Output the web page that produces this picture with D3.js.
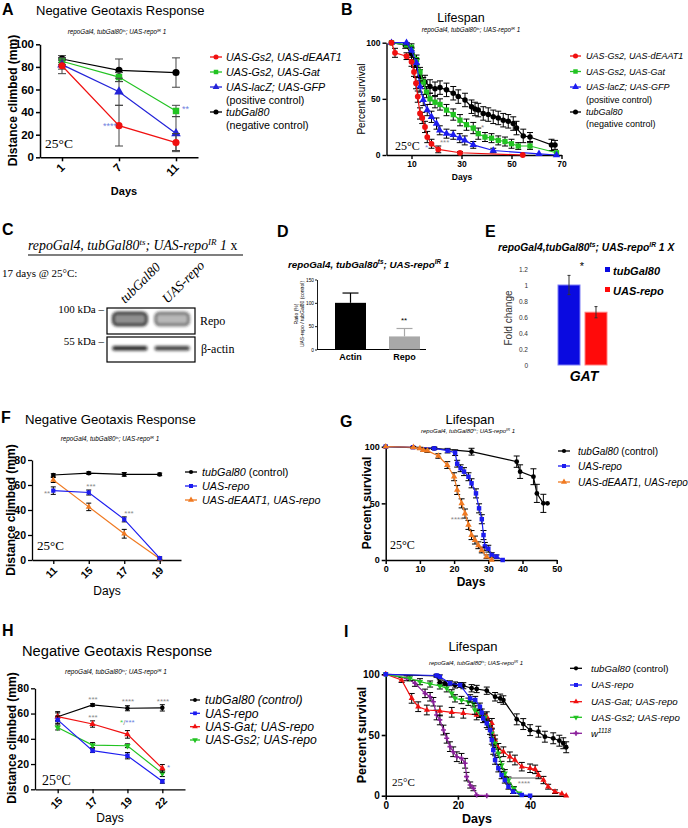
<!DOCTYPE html>
<html><head><meta charset="utf-8">
<script src="https://cdn.jsdelivr.net/npm/d3@7"></script>
<style>body{margin:0;background:#fff}svg{display:block}</style>
</head><body><svg id="fig" width="688" height="828"></svg>
<script>
// ================= DATA =================
const genotypeLine = [["repoGal4, tubGal80"],["ts","s"],["; UAS-repo"],["IR","s"],[" 1"]];
const genotypeLineE = [["repoGal4,tubGal80"],["ts","s"],["; UAS-repo"],["IR","s"],[" 1 X"]];
const genotypeLineC = [["repoGal4, tubGal80"],["ts","s"],["; UAS-repo"],["IR","s"],[" 1 "],["x","n"]];

// Panel A – negative geotaxis (mm)
const aDays = ["1","7","11"];
const aYTicks = [0,20,40,60,80,100];
const aGs2dEAAT1 = [81, 28, 13];
const aGs2dEAAT1Err = [7, 18, 8];
const aGs2Gat = [85, 71, 41];
const aGs2GatErr = [3, 4, 5];
const aLacZGFP = [82, 58, 21];
const aLacZGFPErr = [4, 12, 15];
const aTubGal80 = [87, 77, 75];
const aTubGal80Err = [3, 10, 13];
const aLegend = ["UAS-Gs2, UAS-dEAAT1","UAS-Gs2, UAS-Gat","UAS-lacZ; UAS-GFP","tubGal80"];
const aNotes = ["(positive control)","(negative control)"];

// Panel B – lifespan [day, % survival, error]
const bXTicks = [10,30,50,70];
const bYTicks = [0,50,100];
const bGs2dEAAT1 = [[2,100,0],[3.4,91,4],[8,88,3],[10,83,4],[11,74,4],[11.8,64,5],[12.5,52,5],[13.4,37,5],[14.3,33,5],[15.4,25,5],[16.3,16,5],[18,10,4],[20.7,5,3],[29.4,2,1],[54.5,0,0]];
const bGs2Gat = [[2,100,0],[8,98,2],[10,96,3],[12,85,4],[13.4,74,4],[14.7,65,4],[16,56,5],[17.4,50,5],[19.4,47,5],[21.4,45,5],[24,40,5],[26.7,36,5],[29.4,31,5],[32,27,5],[34.7,24,5],[36.7,19,5],[39.4,16,4],[42,15,4],[44.7,13,4],[47.4,12,4],[50,10,4],[52.7,8,3],[57.4,8,3],[68,2,0]];
const bLacZGFP = [[2,100,0],[8,100,2],[10,93,3],[12,82,4],[13.4,61,5],[14.7,49,5],[16.3,40,5],[18,34,5],[20,28,5],[21.3,22,4],[24,19,4],[26.7,18,4],[29.3,15,4],[31.3,13,4],[34.7,9,3],[42.7,4,2],[61,1,0],[68,0,0]];
const bTubGal80 = [[2,100,0],[7.5,98,3],[10,90,5],[12,80,5],[13.4,70,6],[15.4,65,6],[17.4,61,6],[19.4,59,6],[21.4,60,6],[24,58,6],[26.7,55,6],[28.7,52,6],[31.4,49,6],[34,43,6],[35.4,41,6],[36.7,40,6],[38.7,37,6],[40.7,36,6],[42.7,34,6],[44.7,33,6],[46.7,31,6],[48.7,30,6],[50.7,28,6],[52,24,6],[54.7,17,6],[57.4,16,4],[66,9,5],[67.4,9,4]];

// Panel C – western blot
const blotLanes = ["tubGal80","UAS-repo"];
const repoBand = [0.95, 0.6];
const actinBand = [0.9, 0.8];

// Panel D – ratio (%)
const dCats = ["Actin","Repo"];
const dVals = [100, 28];
const dErr = [21, 17];
const dYTicks = [0,50,100,150];

// Panel E – fold change GAT
const eCats = ["tubGal80","UAS-repo"];
const eVals = [1.0, 0.66];
const eErr = [0.12, 0.07];
const eYTicks = [0,0.2,0.4,0.6,0.8,1,1.2];

// Panel F – negative geotaxis
const fDays = ["11","15","17","19"];
const fYTicks = [0,20,40,60,80];
const fTubGal80 = [68, 69.5, 68.5, 68.5];
const fTubGal80Err = [1, 1, 1.5, 1];
const fRepo = [55.5, 54, 32.5, 1.5];
const fRepoErr = [3, 2, 2, 1];
const fDEAAT1Repo = [64, 42.5, 21, 1];
const fDEAAT1RepoErr = [2, 3, 3.5, 0.5];
const fLegend = ["tubGal80 (control)","UAS-repo","UAS-dEAAT1, UAS-repo"];

// Panel G – lifespan
const gXTicks = [0,10,20,30,40,50];
const gYTicks = [0,50,100];
const gTubGal80 = [[0,100,0],[14.2,98.5,1],[25.1,95.6,3],[38.3,86.8,5],[39.3,78,6],[43.2,73.5,7],[44.2,58.8,8],[46.1,50,8],[47.3,50,0]];
const gRepo = [[0,100,0],[8,99.5,0.5],[14.2,98.5,1],[18.1,96.5,2],[20.3,94.7,2.5],[20.9,85,3],[21.9,81,3],[22.9,78,3.5],[24.2,73.5,3.5],[25.1,67.7,4],[26.4,58.8,4],[27.3,45.6,4],[28.1,36,4],[28.6,22,4],[29,12,3.5],[30,10,3],[31,4.4,2],[32.4,3,1.5],[34.2,0,0]];
const gDEAAT1Repo = [[0,100,0],[8.1,99.5,0.5],[10,98.5,1],[11,97,1],[12.2,96.5,1.5],[15.4,91.8,2],[18,83.8,3],[20,73.5,3.5],[20.9,61.8,4],[22.2,50,4],[23.2,41,4],[24.2,31,4],[25.1,22,4],[26.1,17.6,3.5],[27.1,13,3],[28.1,8.8,2.5],[29.5,3,1.5],[31,0,0]];
const gLegend = ["tubGal80 (control)","UAS-repo","UAS-dEAAT1, UAS-repo"];

// Panel H – negative geotaxis
const hDays = ["15","17","19","22"];
const hYTicks = [0,20,40,60,80];
const hTubGal80 = [57.5, 66.8, 64.2, 64.5];
const hTubGal80Err = [4, 1, 2, 2.5];
const hRepo = [55, 30.6, 26.6, 6.3];
const hRepoErr = [3, 1.5, 2.5, 1.5];
const hGatRepo = [57.5, 51.7, 43.5, 16.6];
const hGatRepoErr = [3, 2.5, 3, 3];
const hGs2Repo = [49, 35, 34.5, 12.6];
const hGs2RepoErr = [2, 2, 1.5, 2.5];
const hLegend = ["tubGal80 (control)","UAS-repo","UAS-Gat; UAS-repo","UAS-Gs2; UAS-repo"];

// Panel I – lifespan
const iXTicks = [0,20,40];
const iYTicks = [0,50,100];
const iTubGal80 = [[0,100,0],[14.1,98.6,1],[15,93.4,2],[16.4,92.6,2],[19.2,91.2,2.5],[21.5,90.6,2.5],[23.8,88.5,3],[25.2,87.9,3],[28,86.5,3],[30.3,81.5,3.5],[31.7,80.2,3.5],[32.6,78.8,3.5],[36.3,62.9,4.5],[38.1,59,4.5],[40,54,4.5],[42.3,52.7,4.5],[44.1,48.6,4.5],[46.4,47.3,4.5],[48.1,45.3,4.5],[49.2,43.2,4.5],[50,39.9,4.5]];
const iRepo = [[0,100,0],[14.1,99,1],[15,98,1.5],[17.8,92.6,2],[20.6,91.2,2],[23.4,80.2,3],[24.8,78.8,3],[26.1,73.3,3],[26.6,68.4,3],[27,63.7,3.5],[28,59.6,3.5],[28.9,54,3.5],[29.4,45.9,3.5],[29.8,37.6,3.5],[30.3,29.4,3.5],[31.2,22.6,3],[32.1,17,3],[33,12.9,2.5],[34,7.4,2],[35.3,3.3,1.5],[37.7,0.6,0],[40,0,0]];
const iGatRepo = [[0,100,0],[4.4,95.3,2],[7.2,80.2,4],[9,73.3,4],[11.4,70.6,4],[15,69.8,4],[18.3,68.7,4],[21.5,67.9,4],[25.2,66.5,4],[28,65.1,4],[29.4,59.6,4],[30.3,45.9,4],[31.2,39,4],[32.6,36.2,4],[34.4,32,4],[35.8,29.4,4],[37.7,23.9,3.5],[40,22.6,3.5],[41.4,21.7,3.5],[42.3,17,3],[43.7,12.9,3],[45,7.4,2],[46.9,3.3,1.5],[48.8,1.6,0],[50,0,0]];
const iGs2Repo = [[0,100,0],[6.7,96.7,2],[9.5,93.9,2.5],[12.3,92,2.5],[15,90.4,2.5],[16.9,88.5,3],[18.3,84.3,3],[19.2,80.2,3],[21,78.8,3],[22.9,77.4,3],[24.3,76.1,3],[24.7,70.6,3.5],[26.1,67.9,3.5],[27.5,64.6,3.5],[28.4,58.2,3.5],[29.4,51.4,3.5],[30.3,43.2,3.5],[31.2,34.9,3.5],[32.1,25.3,3],[33,18.5,3],[34,12.9,2.5],[35.5,6,1.5],[37,2,0]];
const iW1118 = [[0,100,0],[5.8,96.7,2],[8.1,92.6,2.5],[10.9,84.3,3.5],[12.3,81.5,3.5],[13.2,77.4,3.5],[14.1,66.5,4],[15,62.4,4],[16,54.1,4],[16.9,47.3,4],[17.8,40.4,4],[18.7,36.2,4],[19.7,32.1,4],[21,30.8,4],[22,26.7,4],[22.4,15.7,3.5],[23.4,8.8,2.5],[24.3,6.1,2],[25.2,0.5,0],[28,0,0]];
const iLegend = ["tubGal80 (control)","UAS-repo","UAS-Gat; UAS-repo","UAS-Gs2; UAS-repo","w1118"];

// ================= HELPERS =================
const svg = d3.select("#fig");
const SANS = '"Liberation Sans", Arial, Helvetica, sans-serif';
const SERIF = '"Liberation Serif", "Times New Roman", serif';
const RED = "#f01010", GREEN = "#22c322", BLUE = "#1c1cf0", BLACK = "#000", ORANGE = "#f07a22", PURPLE = "#8a1e9a";
const STAR_BLUE = "#6f7fe0", STAR_GREY = "#8a8a8a";

function txt(x, y, s, o = {}) {
  const t = svg.append("text").attr("x", x).attr("y", y).text(s)
    .attr("font-size", o.size || 10).attr("font-family", o.serif ? SERIF : SANS)
    .attr("font-weight", o.bold ? "bold" : "normal").attr("font-style", o.italic ? "italic" : "normal")
    .attr("text-anchor", o.anchor || "start").attr("fill", o.fill || "#000");
  if (o.rotate) t.attr("transform", `rotate(${o.rotate},${x},${y})`);
  return t;
}
function rich(x, y, parts, o = {}) {
  const size = o.size || 10;
  const t = svg.append("text").attr("x", x).attr("y", y)
    .attr("font-size", size).attr("font-family", o.serif ? SERIF : SANS)
    .attr("font-weight", o.bold ? "bold" : "normal").attr("text-anchor", o.anchor || "start").attr("fill", o.fill || "#000");
  if (o.rotate) t.attr("transform", `rotate(${o.rotate},${x},${y})`);
  const up = size * 0.38;
  let shifted = false;
  parts.forEach(([s, f = ""]) => {
    const sp = t.append("tspan").text(s);
    const it = f.includes("i") || (o.italic && !f.includes("n"));
    sp.attr("font-style", it ? "italic" : "normal");
    if (f.includes("s")) { sp.attr("font-size", size * 0.65); if (!shifted) { sp.attr("dy", -up); shifted = true; } }
    else if (shifted) { sp.attr("dy", up); shifted = false; }
  });
  return t;
}
function labelParts(label, allItalic) {
  const m = label.match(/^w(\d+)$/);
  if (m) return [["w", "i"], [m[1], "si"]];
  if (label.startsWith("(")) return [[label, "n"]];
  const k = label.indexOf(" (");
  if (k > 0) return allItalic ? [[label, "i"]] : [[label.slice(0, k), "i"], [label.slice(k), "n"]];
  return [[label, "i"]];
}
function styleAxis(g, o) {
  g.attr("font-family", SANS);
  g.select(".domain").attr("stroke-width", o.sw || 1.3);
  g.selectAll(".tick line").attr("stroke-width", o.sw || 1.3);
  g.selectAll(".tick text").attr("font-size", o.size || 10).attr("font-weight", o.bold ? "bold" : "normal").attr("fill", o.fill || "#000");
}
function yAxis(x, scale, ticks, o = {}) {
  const ax = d3.axisLeft(scale).tickValues(ticks).tickSize(o.tick ?? 4).tickSizeOuter(0).tickPadding(o.pad ?? 2);
  if (o.fmt) ax.tickFormat(o.fmt);
  const g = svg.append("g").attr("transform", `translate(${x},0)`).call(ax);
  styleAxis(g, o);
  return g;
}
function xAxis(y, scale, ticks, o = {}) {
  const ax = d3.axisBottom(scale).tickSize(o.tick ?? 4).tickSizeOuter(0).tickPadding(o.pad ?? 2);
  if (ticks) ax.tickValues(ticks);
  const g = svg.append("g").attr("transform", `translate(0,${y})`).call(ax);
  styleAxis(g, o);
  if (o.rot) {
    g.selectAll(".tick text").attr("y", 0).attr("dy", 0).attr("text-anchor", "end")
      .attr("transform", `translate(${o.rot[0]},${o.rot[1]}) rotate(-45)`);
  }
  return g;
}
function catPts(x, y, cats, vals, errs) {
  return cats.map((c, i) => ({ x: x(c), y: y(vals[i]), y1: y(vals[i] + errs[i]), y2: y(Math.max(0, vals[i] - errs[i])), e: errs[i] }));
}
function survPts(x, y, arr) {
  return arr.map(([d, v, e]) => ({ x: x(d), y: y(v), y1: y(Math.min(100, v + e)), y2: y(Math.max(0, v - e)), e }));
}
function series(pts, color, sym, size, o = {}) {
  const g = svg.append("g");
  const ec = o.ec || "#000", cap = o.cap ?? 3, ew = o.ew ?? 1;
  pts.forEach(p => {
    if (!p.e) return;
    g.append("line").attr("x1", p.x).attr("x2", p.x).attr("y1", p.y1).attr("y2", p.y2).attr("stroke", ec).attr("stroke-width", ew);
    [p.y1, p.y2].forEach(yy => g.append("line").attr("x1", p.x - cap).attr("x2", p.x + cap).attr("y1", yy).attr("y2", yy).attr("stroke", ec).attr("stroke-width", ew));
  });
  g.append("path").datum(pts).attr("d", d3.line().x(p => p.x).y(p => p.y)).attr("fill", "none").attr("stroke", color).attr("stroke-width", o.lw ?? 1.2);
  g.selectAll(null).data(pts).join("path").attr("d", d3.symbol(sym, size))
    .attr("transform", p => `translate(${p.x},${p.y})${o.rot ? " rotate(180)" : ""}`).attr("fill", color);
}
function legendRows(x0, len, gap, size, rows, allItalic) {
  rows.forEach(r => {
    if (r.color) {
      svg.append("line").attr("x1", x0).attr("x2", x0 + len).attr("y1", r.y).attr("y2", r.y).attr("stroke", r.color).attr("stroke-width", 1.3);
      svg.append("path").attr("d", d3.symbol(r.sym, r.size || 20))
        .attr("transform", `translate(${x0 + len / 2},${r.y})${r.rot ? " rotate(180)" : ""}`).attr("fill", r.color);
    }
    rich(x0 + len + gap, r.y + size * 0.36, labelParts(r.label, allItalic), { size });
  });
}
const C = d3.symbolCircle, S = d3.symbolSquare, T = d3.symbolTriangle, X = d3.symbolCross;

// panel letters
[["A",2,15],["B",341,15],["C",2,235],["D",277,237],["E",485,237],["F",1,423],["G",340,427],["H",2,636],["I",344,637]]
  .forEach(([l, x, y]) => txt(x, y, l, { size: 16, bold: true }));

// ================= PANEL A =================
txt(36, 15, "Negative Geotaxis Response", { size: 13 });
rich(117, 34, genotypeLine, { size: 6.3, italic: true, anchor: "middle" });
const xA = d3.scalePoint().domain(aDays).range([40, 198]).padding(0.386);
const yA = d3.scaleLinear().domain([0, 100]).range([157.3, 44.3]);
yAxis(40, yA, aYTicks, { size: 11.5, bold: true, sw: 1.5, tick: 4 });
xAxis(157.3, xA, null, { size: 11.5, bold: true, sw: 1.5, rot: [3, 11] });
txt(17, 100.5, "Distance climbed (mm)", { size: 12, bold: true, anchor: "middle", rotate: -90 });
txt(124, 195, "Days", { size: 11, bold: true, anchor: "middle" });
series(catPts(xA, yA, aDays, aTubGal80, aTubGal80Err), BLACK, C, 40, { ec: "#444", cap: 4 });
series(catPts(xA, yA, aDays, aGs2Gat, aGs2GatErr), GREEN, S, 42, { ec: "#444", cap: 4 });
series(catPts(xA, yA, aDays, aLacZGFP, aLacZGFPErr), "#2323d8", T, 40, { ec: "#444", cap: 4 });
series(catPts(xA, yA, aDays, aGs2dEAAT1, aGs2dEAAT1Err), RED, C, 40, { ec: "#444", cap: 4 });
txt(45, 148, "25°C", { size: 13.5, serif: true });
txt(110, 129, "****", { size: 9, anchor: "middle", fill: STAR_BLUE });
txt(182, 112, "**", { size: 9, fill: STAR_BLUE });
legendRows(210, 12, 4, 10.7, [
  { y: 57, color: RED, sym: C, label: aLegend[0] },
  { y: 72, color: GREEN, sym: S, label: aLegend[1] },
  { y: 87, color: "#2323d8", sym: T, label: aLegend[2] },
  { y: 100, label: aNotes[0] },
  { y: 112, color: BLACK, sym: C, label: aLegend[3] },
  { y: 125, label: aNotes[1] }
]);

// ================= PANEL B =================
txt(461, 22, "Lifespan", { size: 12.5, anchor: "middle" });
rich(471, 32, genotypeLine, { size: 6.3, italic: true, anchor: "middle" });
const xB = d3.scaleLinear().domain([0, 70]).range([386.5, 561.5]);
const yB = d3.scaleLinear().domain([0, 100]).range([155, 42.7]);
yAxis(386.5, yB, bYTicks, { size: 8.5, bold: true, sw: 1.4, tick: 4 });
xAxis(155, xB, bXTicks, { size: 8.5, bold: true, sw: 1.4, tick: 4 });
txt(365, 99, "Percent survival", { size: 10, anchor: "middle", rotate: -90 });
txt(462, 180, "Days", { size: 8.5, bold: true, anchor: "middle" });
series(survPts(xB, yB, bTubGal80), BLACK, C, 24, { cap: 3 });
series(survPts(xB, yB, bGs2Gat), GREEN, S, 28, { cap: 3 });
series(survPts(xB, yB, bLacZGFP), BLUE, T, 24, { cap: 3 });
series(survPts(xB, yB, bGs2dEAAT1), RED, C, 26, { cap: 3 });
txt(395, 150, "25°C", { size: 12, serif: true });
txt(425, 150, "*", { size: 8, fill: STAR_BLUE });
txt(440, 145, "***", { size: 8, fill: STAR_GREY });
txt(481, 130, "*", { size: 8, fill: STAR_GREY });
legendRows(570, 11, 5, 9, [
  { y: 56, color: RED, sym: C, label: aLegend[0] },
  { y: 71.5, color: GREEN, sym: S, label: aLegend[1] },
  { y: 87, color: BLUE, sym: T, label: aLegend[2] },
  { y: 99.5, label: aNotes[0] },
  { y: 112, color: BLACK, sym: C, label: aLegend[3] },
  { y: 124, label: aNotes[1] }
]);

// ================= PANEL C (western blot) =================
rich(28, 250, genotypeLineC, { size: 13.8, italic: true, serif: true });
svg.append("line").attr("x1", 28).attr("x2", 243).attr("y1", 255).attr("y2", 255).attr("stroke", "#000").attr("stroke-width", 1.2);
txt(2, 277, "17 days @ 25°C:", { size: 11, serif: true });
const defs = svg.append("defs");
defs.append("filter").attr("id", "blur").attr("x", "-30%").attr("y", "-60%").attr("width", "160%").attr("height", "220%")
  .append("feGaussianBlur").attr("stdDeviation", 1.4);
const xC = d3.scaleBand().domain(blotLanes).range([107, 195]).paddingInner(0.12).paddingOuter(0.1);
blotLanes.forEach(l => rich(xC(l) + 14, 304, [[l, "i"]], { size: 13.5, serif: true, rotate: -45 }));
txt(104, 313, "100 kDa –", { size: 11, serif: true, anchor: "end" });
txt(104, 345, "55 kDa –", { size: 11, serif: true, anchor: "end" });
svg.append("rect").attr("x", 107).attr("y", 308).attr("width", 88).attr("height", 26).attr("fill", "#fff").attr("stroke", "#000").attr("stroke-width", 1.2);
svg.append("rect").attr("x", 107).attr("y", 337).attr("width", 88).attr("height", 25).attr("fill", "#fff").attr("stroke", "#000").attr("stroke-width", 1.2);
blotLanes.forEach((l, i) => {
  const bx = xC(l), bw = xC.bandwidth();
  svg.append("rect").attr("x", bx + 2).attr("y", 313).attr("width", bw - 4).attr("height", 12).attr("rx", 4)
    .attr("fill", "#555").attr("fill-opacity", repoBand[i] * 0.7).attr("stroke", "#111").attr("stroke-opacity", repoBand[i]).attr("stroke-width", 2.4)
    .attr("filter", "url(#blur)");
  svg.append("rect").attr("x", bx + 1).attr("y", 346).attr("width", bw - 2).attr("height", 4.5).attr("rx", 2)
    .attr("fill", "#111").attr("fill-opacity", actinBand[i]).attr("filter", "url(#blur)");
});
txt(200, 325, "Repo", { size: 12, serif: true });
txt(201, 353, "β-actin", { size: 12, serif: true });

// ================= PANEL D =================
rich(288, 268, genotypeLine, { size: 9.8, bold: true, italic: true });
const yD = d3.scaleLinear().domain([0, 150]).range([349.5, 279.5]);
const xD = d3.scaleBand().domain(dCats).range([318.8, 436.2]).paddingInner(0.426).paddingOuter(0.3);
yAxis(317, yD, dYTicks, { size: 4.8, sw: 0.9, tick: 2, pad: 1 });
svg.append("line").attr("x1", 317).attr("x2", 426).attr("y1", 349.5).attr("y2", 349.5).attr("stroke", "#000").attr("stroke-width", 1.2);
dCats.forEach((c, i) => {
  const col = i === 0 ? "#000" : "#a8a8a8";
  const cx = xD(c) + xD.bandwidth() / 2;
  svg.append("line").attr("x1", cx).attr("x2", cx).attr("y1", yD(dVals[i])).attr("y2", yD(dVals[i] + dErr[i])).attr("stroke", col).attr("stroke-width", 1.2);
  svg.append("line").attr("x1", cx - 8).attr("x2", cx + 8).attr("y1", yD(dVals[i] + dErr[i])).attr("y2", yD(dVals[i] + dErr[i])).attr("stroke", col).attr("stroke-width", 1.2);
  svg.append("rect").attr("x", xD(c)).attr("y", yD(dVals[i])).attr("width", xD.bandwidth()).attr("height", yD(0) - yD(dVals[i])).attr("fill", col);
  txt(cx, 360, c, { size: 9, bold: true, anchor: "middle" });
});
txt(404, 323, "**", { size: 8, anchor: "middle" });
txt(298, 314, "Ratio (%)", { size: 5, anchor: "middle", rotate: -90 });
txt(304, 314, "UAS-repo / tubGal80 (control)", { size: 5, anchor: "middle", rotate: -90 });

// ================= PANEL E =================
rich(498, 251, genotypeLineE, { size: 10.3, bold: true, italic: true });
const yE = d3.scaleLinear().domain([0, 1.2]).range([365, 269]);
const xE = d3.scaleBand().domain(eCats).range([558, 607]).paddingInner(0.185).paddingOuter(0);
const gE = yAxis(531, yE, eYTicks, { size: 6.5, tick: 0, pad: 3, fill: "#333", fmt: d => String(+d.toFixed(1)) });
gE.select(".domain").remove();
const eCols = ["#0a0ae0", "#ff0a0a"], eEdge = ["#7f7ff5", "#ff8080"];
eCats.forEach((c, i) => {
  const cx = xE(c) + xE.bandwidth() / 2;
  svg.append("rect").attr("x", xE(c)).attr("y", yE(eVals[i])).attr("width", xE.bandwidth()).attr("height", yE(0) - yE(eVals[i]))
    .attr("fill", eCols[i]).attr("stroke", eEdge[i]).attr("stroke-width", 1);
  svg.append("line").attr("x1", cx).attr("x2", cx).attr("y1", yE(eVals[i] + eErr[i])).attr("y2", yE(eVals[i] - eErr[i])).attr("stroke", "#333").attr("stroke-width", 1);
  [eVals[i] + eErr[i], eVals[i] - eErr[i]].forEach(v => svg.append("line").attr("x1", cx - 1.5).attr("x2", cx + 1.5).attr("y1", yE(v)).attr("y2", yE(v)).attr("stroke", "#333").attr("stroke-width", 1));
  svg.append("rect").attr("x", 605).attr("y", 267 + i * 20).attr("width", 5).attr("height", 5).attr("fill", eCols[i]);
  rich(613, 275 + i * 20, [[c, "i"]], { size: 11, bold: true });
});
txt(582, 270, "*", { size: 11, anchor: "middle" });
txt(512, 318, "Fold change", { size: 10, anchor: "middle", rotate: -90, fill: "#333" });
rich(584, 381, [["GAT", "i"]], { size: 14, bold: true, anchor: "middle" });

// ================= PANEL F =================
txt(25, 424, "Negative Geotaxis Response", { size: 13.2 });
rich(110, 441, genotypeLine, { size: 6.3, italic: true, anchor: "middle" });
const xF = d3.scalePoint().domain(fDays).range([32, 181]).padding(0.6);
const yF = d3.scaleLinear().domain([0, 80]).range([560, 460]);
yAxis(32, yF, fYTicks, { size: 10.5, bold: true, sw: 1.3, tick: 4 });
xAxis(560, xF, null, { size: 10.5, bold: true, sw: 1.3, rot: [4, 11] });
txt(15, 510, "Distance climbed (mm)", { size: 12, bold: true, anchor: "middle", rotate: -90 });
txt(107, 595, "Days", { size: 12, anchor: "middle" });
series(catPts(xF, yF, fDays, fTubGal80, fTubGal80Err), BLACK, C, 16, { cap: 2.5 });
series(catPts(xF, yF, fDays, fDEAAT1Repo, fDEAAT1RepoErr), ORANGE, T, 16, { cap: 2.5 });
series(catPts(xF, yF, fDays, fRepo, fRepoErr), BLUE, S, 18, { cap: 2.5 });
txt(37, 550, "25°C", { size: 13, serif: true });
txt(47, 496, "**", { size: 8, anchor: "middle", fill: STAR_GREY });
txt(91, 489, "***", { size: 8, anchor: "middle", fill: STAR_GREY });
txt(129, 516, "***", { size: 8, anchor: "middle", fill: STAR_GREY });
legendRows(185, 12, 5, 10.8, [
  { y: 472, color: BLACK, sym: C, size: 14, label: fLegend[0] },
  { y: 486, color: BLUE, sym: S, size: 16, label: fLegend[1] },
  { y: 500, color: ORANGE, sym: T, size: 16, label: fLegend[2] }
]);

// ================= PANEL G =================
txt(470, 424, "Lifespan", { size: 13, anchor: "middle" });
rich(468, 433, genotypeLine, { size: 6, italic: true, anchor: "middle" });
const xG = d3.scaleLinear().domain([0, 50]).range([385.7, 556.7]);
const yG = d3.scaleLinear().domain([0, 100]).range([560, 446.7]);
yAxis(385.7, yG, gYTicks, { size: 9, bold: true, sw: 1.5, tick: 4 });
xAxis(560, xG, gXTicks, { size: 9, bold: true, sw: 1.5, tick: 4 });
txt(371, 503, "Percent survival", { size: 12, bold: true, anchor: "middle", rotate: -90 });
txt(471, 586, "Days", { size: 12, bold: true, anchor: "middle" });
series(survPts(xG, yG, gTubGal80), BLACK, C, 18, { cap: 3 });
series(survPts(xG, yG, gRepo), BLUE, S, 20, { cap: 3 });
series(survPts(xG, yG, gDEAAT1Repo), ORANGE, T, 18, { cap: 3 });
txt(390, 549, "25°C", { size: 12, serif: true });
txt(457, 522, "****", { size: 8, anchor: "middle", fill: STAR_GREY });
legendRows(558, 12, 8, 10, [
  { y: 451, color: BLACK, sym: C, size: 14, label: gLegend[0] },
  { y: 466, color: BLUE, sym: S, size: 16, label: gLegend[1] },
  { y: 482, color: ORANGE, sym: T, size: 16, label: gLegend[2] }
]);

// ================= PANEL H =================
txt(22, 656, "Negative Geotaxis Response", { size: 14.7 });
rich(116, 674, genotypeLine, { size: 6.5, italic: true, anchor: "middle" });
const xH = d3.scalePoint().domain(hDays).range([35, 185]).padding(0.65);
const yH = d3.scaleLinear().domain([0, 80]).range([789.3, 688.3]);
yAxis(35, yH, hYTicks, { size: 10.5, bold: true, sw: 1.3, tick: 4 });
xAxis(789.3, xH, null, { size: 10.5, bold: true, sw: 1.3, rot: [5, 12] });
txt(16, 738, "Distance climbed (mm)", { size: 12, bold: true, anchor: "middle", rotate: -90 });
txt(110, 822, "Days", { size: 12, anchor: "middle" });
series(catPts(xH, yH, hDays, hTubGal80, hTubGal80Err), BLACK, C, 16, { cap: 2.5 });
series(catPts(xH, yH, hDays, hGs2Repo, hGs2RepoErr), GREEN, T, 18, { cap: 2.5, rot: true });
series(catPts(xH, yH, hDays, hGatRepo, hGatRepoErr), RED, T, 18, { cap: 2.5 });
series(catPts(xH, yH, hDays, hRepo, hRepoErr), BLUE, S, 20, { cap: 2.5 });
txt(42, 785, "25°C", { size: 14, serif: true });
txt(93, 702, "***", { size: 8, anchor: "middle", fill: STAR_GREY });
txt(128, 704, "****", { size: 8, anchor: "middle", fill: STAR_GREY });
txt(163, 704, "****", { size: 8, anchor: "middle", fill: STAR_GREY });
txt(93, 720, "***", { size: 8, anchor: "middle", fill: STAR_GREY });
const hs = svg.append("text").attr("x", 120).attr("y", 725).attr("font-size", 8).attr("font-family", SANS);
hs.append("tspan").text("*").attr("fill", "#3ad04a");
hs.append("tspan").text("/").attr("fill", STAR_GREY);
hs.append("tspan").text("***").attr("fill", STAR_BLUE);
txt(167, 770, "*", { size: 8, fill: STAR_BLUE });
legendRows(190, 10, 5, 12.2, [
  { y: 700, color: BLACK, sym: C, size: 12, label: hLegend[0] },
  { y: 713.3, color: BLUE, sym: S, size: 14, label: hLegend[1] },
  { y: 726.7, color: RED, sym: T, size: 14, label: hLegend[2] },
  { y: 740, color: GREEN, sym: T, size: 14, rot: true, label: hLegend[3] }
], true);

// ================= PANEL I =================
txt(473, 651, "Lifespan", { size: 13, anchor: "middle" });
rich(476, 665, genotypeLine, { size: 6, italic: true, anchor: "middle" });
const xI = d3.scaleLinear().domain([0, 50]).range([385.7, 566.2]);
const yI = d3.scaleLinear().domain([0, 100]).range([795.7, 674.3]);
yAxis(385.7, yI, iYTicks, { size: 10, bold: true, sw: 1.6, tick: 4 });
xAxis(795.7, xI, iXTicks, { size: 10, bold: true, sw: 1.6, tick: 4 });
txt(366, 735, "Percent survival", { size: 12.5, bold: true, anchor: "middle", rotate: -90 });
txt(477, 823, "Days", { size: 12.5, bold: true, anchor: "middle" });
series(survPts(xI, yI, iTubGal80), BLACK, C, 18, { cap: 3 });
series(survPts(xI, yI, iW1118), PURPLE, X, 14, { cap: 3 });
series(survPts(xI, yI, iGatRepo), RED, T, 16, { cap: 3 });
series(survPts(xI, yI, iGs2Repo), GREEN, T, 16, { cap: 3, rot: true });
series(survPts(xI, yI, iRepo), BLUE, S, 20, { cap: 3 });
txt(392, 786, "25°C", { size: 11, serif: true });
svg.append("line").attr("x1", 511).attr("x2", 542).attr("y1", 778).attr("y2", 778).attr("stroke", "#333").attr("stroke-width", 0.8);
txt(524, 786, "****", { size: 8, anchor: "middle", fill: STAR_GREY });
legendRows(570, 12, 9, 9.7, [
  { y: 668.3, color: BLACK, sym: C, size: 14, label: iLegend[0] },
  { y: 685, color: BLUE, sym: S, size: 16, label: iLegend[1] },
  { y: 701.7, color: RED, sym: T, size: 14, label: iLegend[2] },
  { y: 717.3, color: GREEN, sym: T, size: 14, rot: true, label: iLegend[3] },
  { y: 733.3, color: PURPLE, sym: X, size: 14, label: iLegend[4] }
]);
</script></body></html>
